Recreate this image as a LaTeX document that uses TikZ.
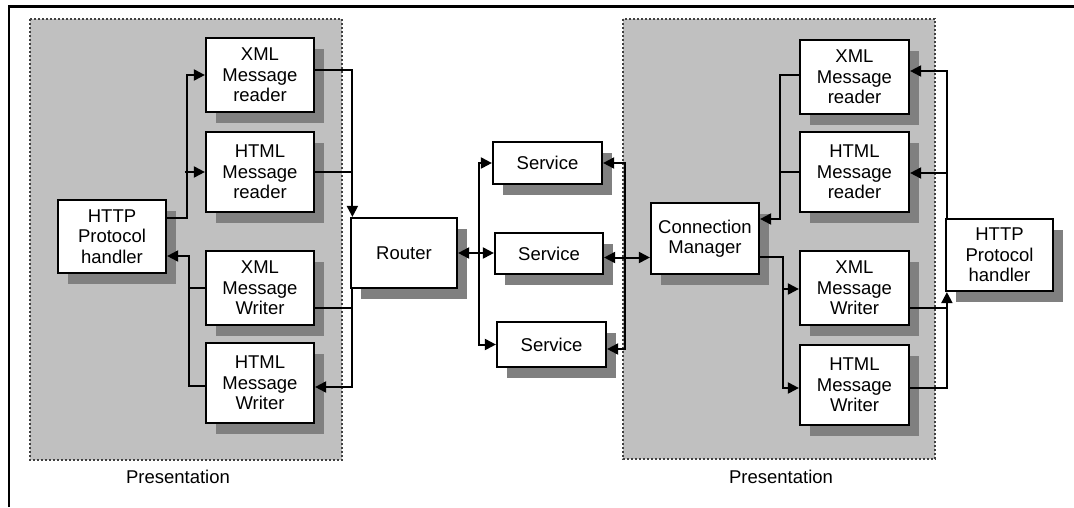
\documentclass[tikz,border=0pt]{standalone}
\usepackage{fontspec}
\setmainfont{Liberation Sans}
\usetikzlibrary{arrows.meta,shadows,calc}
\definecolor{panelgray}{HTML}{C0C0C0}
\definecolor{shadegray}{HTML}{808080}
\tikzset{
  box/.style={draw=black, line width=2.2pt, fill=white, inner sep=0pt,
    align=center, font=\fontsize{18.5}{20.5}\selectfont,
    general shadow={fill=shadegray, shadow xshift=10pt, shadow yshift=-10.5pt}},
  lbl/.style={font=\fontsize{18.5}{20.5}\selectfont, inner sep=0pt},
  panel/.style={fill=panelgray, draw=black!75, line width=1.1pt, dash pattern=on 2pt off 2pt},
  conn/.style={draw=black, line width=2pt},
  thinconn/.style={draw=black, line width=1.3pt},
  arr/.style={conn, -{Triangle[length=11pt,width=11pt]}},
  dbl/.style={conn, {Triangle[length=11pt,width=11pt]}-{Triangle[length=11pt,width=11pt]}},
}
\begin{document}
\begin{tikzpicture}[x=1pt,y=-1pt]
\useasboundingbox (0,0) rectangle (1074,507);

% outer frame (top and left edges)
\draw[line width=2.8pt] (9,507) -- (9,6.5) -- (1074,6.5);

% presentation panels
\draw[panel] (30,19) rectangle (342,460);
\draw[panel] (623,19) rectangle (935,459);
\node[lbl] (lpres) at (178,477) {Presentation};
\node[lbl] (rpres) at (781,477) {Presentation};

% left presentation layer
\node[box, minimum width=108pt, minimum height=74pt] (lxr) at (260,75) {XML\\Message\\reader};
\node[box, minimum width=108pt, minimum height=80pt] (lhr) at (260,172) {HTML\\Message\\reader};
\node[box, minimum width=108pt, minimum height=73pt] (lhttp) at (112,236.5) {HTTP\\Protocol\\handler};
\node[box, minimum width=108pt, minimum height=74pt] (lxw) at (260,288) {XML\\Message\\Writer};
\node[box, minimum width=108pt, minimum height=80pt] (lhw) at (260,383) {HTML\\Message\\Writer};

% router and services
\node[box, minimum width=106pt, minimum height=70pt] (router) at (404,253) {Router};
\node[box, minimum width=109pt, minimum height=42pt] (s1) at (547.5,163) {Service};
\node[box, minimum width=108pt, minimum height=41pt] (s2) at (549,253.5) {Service};
\node[box, minimum width=109pt, minimum height=45pt] (s3) at (551.5,344.5) {Service};

% right presentation layer
\node[box, minimum width=108pt, minimum height=71pt] (cm) at (705,238.5) {Connection\\Manager};
\node[box, minimum width=109pt, minimum height=74pt] (rxr) at (854.5,77) {XML\\Message\\reader};
\node[box, minimum width=109pt, minimum height=80pt] (rhr) at (854.5,172) {HTML\\Message\\reader};
\node[box, minimum width=109pt, minimum height=74pt] (rxw) at (854.5,288) {XML\\Message\\Writer};
\node[box, minimum width=109pt, minimum height=80pt] (rhw) at (854.5,385) {HTML\\Message\\Writer};
\node[box, minimum width=107pt, minimum height=72pt] (rhttp) at (999.5,255) {HTTP\\Protocol\\handler};

% left: handler to readers
\coordinate (lsplit) at ([xshift=-20pt]lhr.west);
\draw[arr] ([yshift=18.5pt]lhttp.east) -- ++(20,0) |- (lxr.west);
\draw[arr] (lsplit) -- (lhr.west);

% left: writers to handler
\draw[arr] ([yshift=-3pt]lhw.west) -- ++(-16,0) |- ([yshift=-19.5pt]lhttp.east);
\draw[thinconn] (lxw.west) -- ++(-16,0);

% left: readers to router
\coordinate (rin) at ([xshift=2.5pt]router.north west);
\draw[arr] ([yshift=5pt]lxr.east) -| (rin);
\draw[thinconn] (lhr.east) -- (lhr.east -| rin);

% router to writers
\coordinate (rout) at ([xshift=2.5pt]router.south west);
\draw[arr] (rout) |- ([yshift=-4pt]lhw.east);
\draw[thinconn] ([yshift=-20pt]lxw.east) -- ([yshift=-20pt]lxw.east -| rout);

% router to services
\coordinate (rsplit) at ([xshift=21pt]router.east);
\draw[dbl] (router.east) -- (router.east -| s2.west);
\draw[arr] (rsplit) |- (s1.west);
\draw[arr] (rsplit) |- (s3.west);

% services to connection manager
\coordinate (csplit) at ([xshift=21pt,yshift=-4pt]s2.east);
\draw[dbl] ([yshift=-4pt]s2.east) -- ([yshift=-4pt]s2.east -| cm.west);
\draw[arr] (csplit) |- (s1.east);
\draw[arr] (csplit) |- ([yshift=-4.5pt]s3.east);

% right: readers to connection manager
\coordinate (cmin) at ([xshift=-19pt]rhr.west);
\draw[arr] ([yshift=2pt]rxr.west) -| (cmin) |- ([yshift=19.5pt]cm.east);
\draw[conn] (rhr.west) -- (cmin);

% right: handler to readers
\coordinate (hup) at ([xshift=2pt]rhttp.north west);
\draw[arr] (hup) |- ([yshift=6pt]rxr.east);
\draw[arr] ([yshift=-1pt]rhr.east -| hup) -- ([yshift=-1pt]rhr.east);

% right: connection manager to writers
\coordinate (cmout) at ([xshift=23pt,yshift=-18.5pt]cm.east);
\draw[arr] ([yshift=-18.5pt]cm.east) -- (cmout) |- ([yshift=-3pt]rhw.west);
\draw[arr] ([yshift=-1pt]rxw.west -| cmout) -- ([yshift=-1pt]rxw.west);

% right: writers to handler
\coordinate (hdown) at ([xshift=2pt]rhttp.south west);
\draw[arr] ([yshift=-3pt]rhw.east) -| (hdown);
\draw[thinconn] ([yshift=-20pt]rxw.east) -- ([yshift=-20pt]rxw.east -| hdown);
\end{tikzpicture}
\end{document}
